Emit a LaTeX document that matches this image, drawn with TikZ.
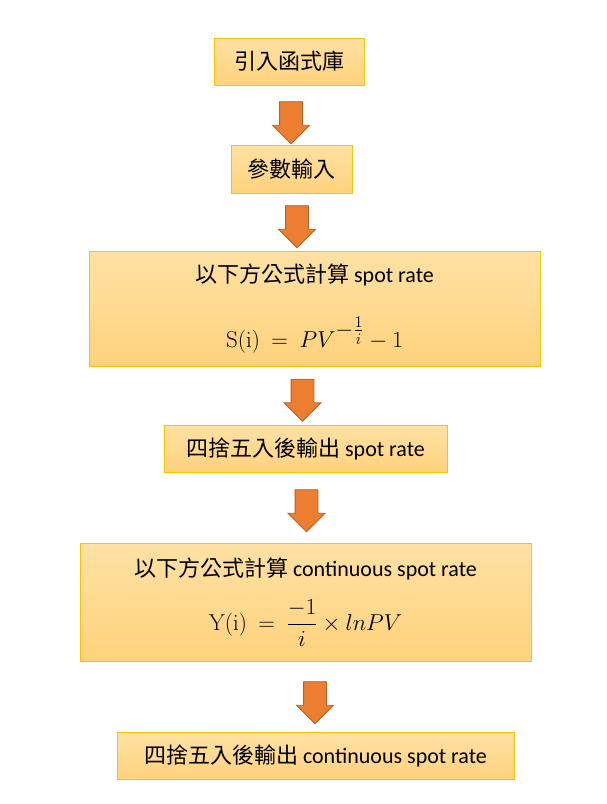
\RequirePackage{fix-cm}
\documentclass[tikz,border=0pt]{standalone}
\usepackage{amsmath}
\usepackage[no-math]{fontspec}
\setmainfont{Carlito}
\newfontfamily\cjk{Noto Sans CJK TC}
\usetikzlibrary{shapes.arrows}
\definecolor{boxTop}{HTML}{FFE1A4}
\definecolor{boxBot}{HTML}{FFD27C}
\definecolor{boxLine}{HTML}{FFC000}
\definecolor{arrFill}{HTML}{ED7D31}
\definecolor{arrLine}{HTML}{B5611F}
\tikzset{Box/.style={draw=boxLine, line width=1pt, top color=boxTop, bottom color=boxBot,
    align=center, inner sep=0pt, font=\fontsize{22}{26}\selectfont}}
\tikzset{Arr/.style={single arrow, draw=arrLine, fill=arrFill, line width=0.8pt,
    rotate=-90, minimum height=42pt, inner xsep=0pt, inner ysep=11pt,
    single arrow head extend=7pt, single arrow head indent=0pt}}
\newcommand{\zh}[1]{{\cjk #1}}
\newcommand{\mth}[1]{{\fontsize{23}{27}\selectfont$#1$}}

\begin{document}
\begin{tikzpicture}[x=1pt, y=-1pt]
    \useasboundingbox (0,0) rectangle (607,804);

    %% Steps
    \node[Box, minimum width=150pt, minimum height=47pt] (lib) at (289,61.5) {\zh{引入函式庫}};
    \node[Box, minimum width=121pt, minimum height=48pt] (par) at (291.5,169) {\zh{參數輸入}};
    \node[Box, minimum width=451pt, minimum height=115pt] (sr) at (314.5,308.5)
        {\zh{以下方公式計算} spot rate\\[30pt]
         \mth{\mathrm{S(i)}\ =\ PV^{\textstyle -\frac{1}{i}}-1}};
    \node[Box, minimum width=283pt, minimum height=47pt] (rsr) at (305.5,448.5)
        {\zh{四捨五入後輸出} spot rate};
    \node[Box, minimum width=451pt, minimum height=118pt] (csr) at (305.5,602)
        {\zh{以下方公式計算} continuous spot rate\\[19pt]
         \mth{\mathrm{Y(i)}\ =\ \dfrac{-1}{i}\times lnPV}};
    \node[Box, minimum width=397pt, minimum height=47pt] (rcsr) at (315.5,755.5)
        {\zh{四捨五入後輸出} continuous spot rate};

    %% Block arrows
    \node[Arr] (a1) at (291,117) {};
    \node[Arr] (a2) at (297,221) {};
    \node[Arr] (a3) at (302.5,394.5) {};
    \node[Arr] (a4) at (306.5,505) {};
    \node[Arr] (a5) at (315,697) {};
\end{tikzpicture}
\end{document}
